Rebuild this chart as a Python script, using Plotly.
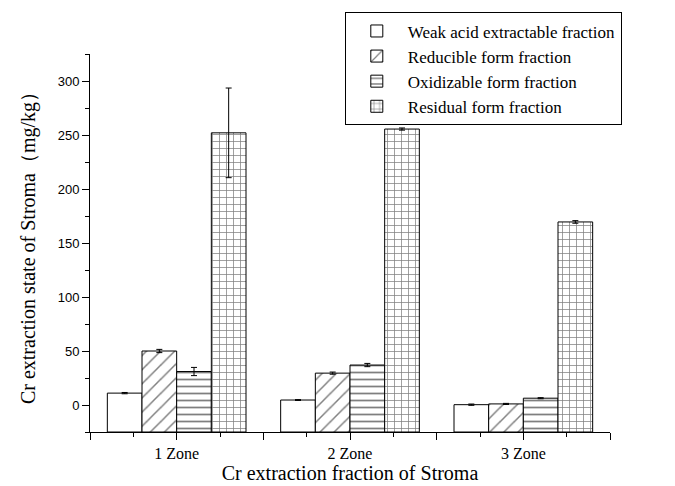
import plotly.graph_objects as go

zones = [1, 2, 3]
zone_labels = ["1 Zone", "2 Zone", "3 Zone"]
series_names = ["Weak acid extractable fraction", "Reducible form fraction",
                "Oxidizable form fraction", "Residual form fraction"]
weak = [11, 4.6, 0.3]
weak_err = [0.6, 0.4, 0.6]
reducible = [50, 29.5, 1]
reducible_err = [1.5, 1.0, 0.5]
oxidizable = [31, 37, 6.3]
oxidizable_err = [3.8, 1.5, 0.5]
residual = [252, 255.5, 169.5]
residual_err = [41.5, 1.0, 1.2]

y_min, y_max = -25, 325
values = [weak, reducible, oxidizable, residual]
errors = [weak_err, reducible_err, oxidizable_err, residual_err]
patterns = [
    dict(shape=""),
    dict(shape="/", size=10, solidity=0.15, fgcolor="black", bgcolor="white"),
    dict(shape="-", size=7, solidity=0.25, fgcolor="black", bgcolor="white"),
    dict(shape="+", size=7, solidity=0.2, fgcolor="black", bgcolor="white"),
]

fig = go.Figure()
for name, vals, errs, pat in zip(series_names, values, errors, patterns):
    fig.add_trace(go.Bar(
        x=zones,
        y=[v - y_min for v in vals],
        base=[y_min] * len(vals),
        name=name,
        marker=dict(color="white", line=dict(color="black", width=1), pattern=pat),
        error_y=dict(type="data", array=errs, color="black", thickness=1, width=3),
    ))

serif = "Liberation Serif, Times New Roman, serif"
sans = "Liberation Sans, Arial, sans-serif"

fig.update_layout(
    width=675, height=486,
    margin=dict(l=90, r=65, t=54, b=54, autoexpand=False),
    paper_bgcolor="white", plot_bgcolor="white",
    barmode="group", bargap=0.2, bargroupgap=0,
    showlegend=True,
    legend=dict(x=0.49, y=1.11, xanchor="left", yanchor="top",
                bordercolor="black", borderwidth=1, bgcolor="white",
                font=dict(family=serif, size=17, color="black"),
                tracegroupgap=0, itemwidth=52),
    xaxis=dict(
        range=[0.5, 3.5],
        automargin=False,
        tickmode="array",
        tickvals=[0.5, 1, 1.5, 2, 2.5, 3, 3.5],
        ticktext=["", zone_labels[0], "", zone_labels[1], "", zone_labels[2], ""],
        ticks="outside", ticklen=7, tickwidth=1, tickcolor="black",
        minor=dict(dtick=0.25, tick0=0.5, ticks="outside", ticklen=4, tickcolor="black"),
        showline=True, linecolor="black", linewidth=1,
        showgrid=False, zeroline=False,
        tickfont=dict(family=serif, size=16, color="black"),
        title=dict(text="Cr extraction fraction of Stroma", standoff=4,
                   font=dict(family=serif, size=20, color="black")),
    ),
    yaxis=dict(
        range=[y_min, y_max],
        automargin=False,
        tickmode="array",
        tickvals=[0, 50, 100, 150, 200, 250, 300],
        ticks="outside", ticklen=7, tickwidth=1, tickcolor="black",
        minor=dict(dtick=25, tick0=0, ticks="outside", ticklen=4, tickcolor="black"),
        showline=True, linecolor="black", linewidth=1,
        showgrid=False, zeroline=False,
        tickfont=dict(family=sans, size=13, color="black"),
        title=dict(text="Cr extraction state of Stroma（mg/kg）", standoff=16,
                   font=dict(family=serif, size=20, color="black")),
    ),
)

fig.write_html("out.html", config={"displayModeBar": False})

# remove the default page margin so the figure sits at the window's corner
with open("out.html", "r", encoding="utf-8") as f:
    html = f.read()
html = html.replace("<head>", "<head><style>html,body{margin:0;padding:0;overflow:hidden}</style>", 1)
with open("out.html", "w", encoding="utf-8") as f:
    f.write(html)
